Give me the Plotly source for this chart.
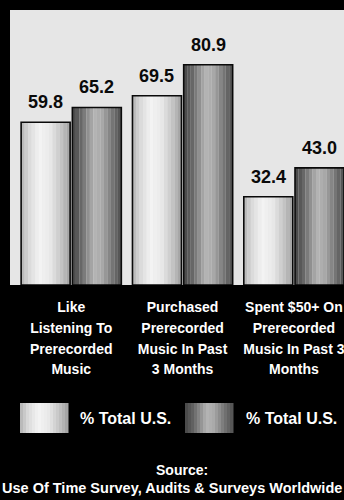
import plotly.graph_objects as go

# ---- data ----
categories = [
    "Like<br>Listening To<br>Prerecorded<br>Music",
    "Purchased<br>Prerecorded<br>Music In Past<br>3 Months",
    "Spent $50+ On<br>Prerecorded<br>Music In Past 3<br>Months",
]
series_names = ["% Total U.S.", "% Total U.S."]
series_a = [59.8, 69.5, 32.4]
series_b = [65.2, 80.9, 43.0]
source_lines = ["Source:", "Use Of Time Survey, Audits & Surveys Worldwide"]

# ---- style ----
FONT = "Liberation Sans"
BG = "#000000"
PLOT_BG = "#e6e6e6"
N_STRIPS = 14
BAR_W = 0.44
OFFSETS = [-0.45, 0.01]

light_stops = [(0.0, 178), (0.15, 215), (0.38, 244), (0.6, 232), (0.85, 190), (1.0, 160)]
dark_stops = [(0.0, 70), (0.15, 95), (0.45, 180), (0.6, 170), (0.85, 110), (1.0, 80)]


def grad(stops, t):
    for (t0, v0), (t1, v1) in zip(stops, stops[1:]):
        if t0 <= t <= t1:
            v = v0 + (v1 - v0) * (t - t0) / (t1 - t0)
            v = int(round(v))
            return f"rgb({v},{v},{v})"
    v = stops[-1][1]
    return f"rgb({v},{v},{v})"


fig = go.Figure()

for vals, off, stops, name in [
    (series_a, OFFSETS[0], light_stops, series_names[0]),
    (series_b, OFFSETS[1], dark_stops, series_names[1]),
]:
    sw = BAR_W / N_STRIPS
    for k in range(N_STRIPS):
        t = (k + 0.5) / N_STRIPS
        fig.add_trace(go.Bar(
            x=categories, y=vals, width=sw * 1.02, offset=off + k * sw,
            marker=dict(color=grad(stops, t), line=dict(width=0)),
            showlegend=False, hoverinfo="skip", name=name,
        ))
    # outline
    fig.add_trace(go.Bar(
        x=categories, y=vals, width=BAR_W, offset=off,
        marker=dict(color="rgba(0,0,0,0)", line=dict(color="#0a0a0a", width=1.6)),
        showlegend=False, name=name,
    ))
    # value labels
    for c, v in zip(categories, vals):
        fig.add_annotation(
            x=c, y=v, xref="x", yref="y", text=f"<b>{v:.1f}</b>",
            showarrow=False, yanchor="bottom", xanchor="center",
            xshift=(off + BAR_W / 2) * 111.3, yshift=8,
            font=dict(family=FONT, size=18, color="#0a0a0a"),
        )

# ---- custom legend ----
H = 275.0   # plot height px
W = 334.0   # plot width px
top_px = 10
left_px = 10


def px(xp):
    return (xp - left_px) / W


def py(yp):
    return (top_px + H - yp) / H


legend_items = [(20, 68, light_stops, 78), (185, 233, dark_stops, 244)]
for (x0, x1, stops, tx), name in zip(legend_items, series_names):
    n = 16
    for k in range(n):
        t = (k + 0.5) / n
        a = x0 + (x1 - x0) * k / n
        b = x0 + (x1 - x0) * (k + 1) / n + 0.5
        fig.add_shape(type="rect", xref="paper", yref="paper",
                      x0=px(a), x1=px(b), y0=py(433), y1=py(403),
                      fillcolor=grad(stops, t), line=dict(width=0), layer="above")
    fig.add_annotation(x=px(tx), y=py(418), xref="paper", yref="paper",
                       text=f"<b>{name}</b>", showarrow=False,
                       xanchor="left", yanchor="middle",
                       font=dict(family=FONT, size=16, color="white"))

# ---- source ----
fig.add_annotation(x=px(182), y=py(470), xref="paper", yref="paper",
                   text=f"<b>{source_lines[0]}</b>", showarrow=False,
                   xanchor="center", yanchor="middle",
                   font=dict(family=FONT, size=14, color="white"))
fig.add_annotation(x=px(172), y=py(488), xref="paper", yref="paper",
                   text=f"<b>{source_lines[1]}</b>", showarrow=False,
                   xanchor="center", yanchor="middle",
                   font=dict(family=FONT, size=14.5, color="white"))

ticktext = ["<b>" + "<br>".join(f'<span style="font-size:14px">{ln}</span>' for ln in c.split("<br>")) + "</b>"
            for c in categories]

fig.update_layout(
    width=344, height=500,
    margin=dict(l=10, r=0, t=10, b=215),
    paper_bgcolor=BG, plot_bgcolor=PLOT_BG,
    barmode="overlay",
    showlegend=False,
    xaxis=dict(
        type="category", range=[-0.55, 2.45], showgrid=False, zeroline=False,
        showline=False, ticks="", tickmode="array", tickvals=categories, ticktext=ticktext,
        tickfont=dict(family=FONT, size=16, color="white"), tickangle=0,
        ticklabelstandoff=10,
    ),
    yaxis=dict(range=[0, 101], showgrid=False, zeroline=False, showline=False,
               showticklabels=False, ticks=""),
    font=dict(family=FONT),
)

fig.write_html("out.html")
